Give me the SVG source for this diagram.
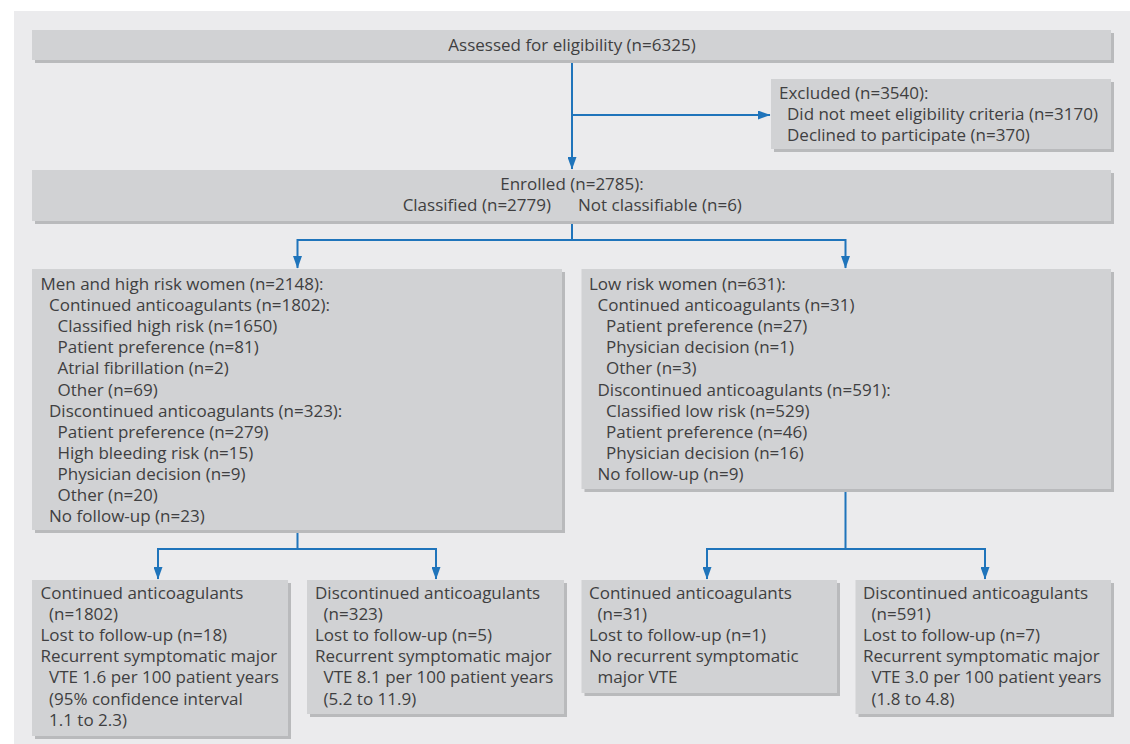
<svg xmlns="http://www.w3.org/2000/svg" width="1130" height="744" viewBox="0 0 1130 744">
<defs>
<marker id="arr" markerUnits="userSpaceOnUse" markerWidth="13" markerHeight="9" refX="12" refY="4.5" orient="auto">
<path d="M0,0 L12.5,4.5 L0,9 z" fill="#1f74bb"/>
</marker>
</defs>
<style>
.bg{fill:#ebebed}
.box{fill:#d1d2d4}
.sh{fill:#b9babc}
.t{font-family:"Open Sans","Liberation Sans",sans-serif;font-size:17px;fill:#3f3f41}
.c{font-family:"Open Sans","Liberation Sans",sans-serif;font-size:17px;fill:#3f3f41;text-anchor:middle}
.e{font-family:"Open Sans","Liberation Sans",sans-serif;font-size:17px;fill:#3f3f41;text-anchor:end}
.ln{fill:none;stroke:#1f74bb;stroke-width:2}
</style>
<rect x="0" y="0" width="1130" height="744" fill="#ffffff"/>
<rect class="bg" x="14" y="11" width="1116" height="733"/>

<g id="connectors">
<path class="ln" d="M572,60 V169" marker-end="url(#arr)"/>
<path class="ln" d="M572,115 H770" marker-end="url(#arr)"/>
<path class="ln" d="M572,221 V240 H297.5 V268" marker-end="url(#arr)"/>
<path class="ln" d="M572,240 H845.5 V268" marker-end="url(#arr)"/>
<path class="ln" d="M297.5,530 V549 H158 V579" marker-end="url(#arr)"/>
<path class="ln" d="M297.5,549 H436 V579" marker-end="url(#arr)"/>
<path class="ln" d="M845.5,489 V549 H707 V579" marker-end="url(#arr)"/>
<path class="ln" d="M845.5,549 H985 V579" marker-end="url(#arr)"/>
</g>

<g id="assessed">
<rect class="sh" x="35" y="33" width="1079" height="30"/>
<rect class="box" x="32" y="30" width="1079" height="30"/>
<text class="c" x="572" y="51">Assessed for eligibility (n=6325)</text>
</g>

<g id="excluded">
<rect class="sh" x="774" y="82" width="340" height="70"/>
<rect class="box" x="771" y="79" width="340" height="70"/>
<text class="t" x="779" y="99">Excluded (n=3540):</text>
<text class="t" x="787" y="120">Did not meet eligibility criteria (n=3170)</text>
<text class="t" x="787" y="141">Declined to participate (n=370)</text>
</g>

<g id="enrolled">
<rect class="sh" x="35" y="173" width="1079" height="51"/>
<rect class="box" x="32" y="170" width="1079" height="51"/>
<text class="c" x="572" y="190">Enrolled (n=2785):</text>
<text class="e" x="551" y="211">Classified (n=2779)</text>
<text class="t" x="578" y="211">Not classifiable (n=6)</text>
</g>

<g id="high-risk">
<rect class="sh" x="35" y="272" width="530" height="261"/>
<rect class="box" x="32" y="269" width="530" height="261"/>
<text class="t" x="40.5" y="290">Men and high risk women (n=2148):</text>
<text class="t" x="49" y="311.1">Continued anticoagulants (n=1802):</text>
<text class="t" x="57.5" y="332.2">Classified high risk (n=1650)</text>
<text class="t" x="57.5" y="353.3">Patient preference (n=81)</text>
<text class="t" x="57.5" y="374.4">Atrial fibrillation (n=2)</text>
<text class="t" x="57.5" y="395.5">Other (n=69)</text>
<text class="t" x="49" y="416.6">Discontinued anticoagulants (n=323):</text>
<text class="t" x="57.5" y="437.7">Patient preference (n=279)</text>
<text class="t" x="57.5" y="458.8">High bleeding risk (n=15)</text>
<text class="t" x="57.5" y="479.9">Physician decision (n=9)</text>
<text class="t" x="57.5" y="501">Other (n=20)</text>
<text class="t" x="49" y="522.1">No follow-up (n=23)</text>
</g>

<g id="low-risk">
<rect class="sh" x="584.5" y="272" width="529.5" height="220"/>
<rect class="box" x="581.5" y="269" width="529.5" height="220"/>
<text class="t" x="589" y="290">Low risk women (n=631):</text>
<text class="t" x="597.5" y="311.1">Continued anticoagulants (n=31)</text>
<text class="t" x="606" y="332.2">Patient preference (n=27)</text>
<text class="t" x="606" y="353.3">Physician decision (n=1)</text>
<text class="t" x="606" y="374.4">Other (n=3)</text>
<text class="t" x="597.5" y="395.5">Discontinued anticoagulants (n=591):</text>
<text class="t" x="606" y="416.6">Classified low risk (n=529)</text>
<text class="t" x="606" y="437.7">Patient preference (n=46)</text>
<text class="t" x="606" y="458.8">Physician decision (n=16)</text>
<text class="t" x="597.5" y="479.9">No follow-up (n=9)</text>
</g>

<g id="hr-continued">
<rect class="sh" x="35" y="583" width="256" height="156"/>
<rect class="box" x="32" y="580" width="256" height="156"/>
<text class="t" x="40.5" y="599">Continued anticoagulants</text>
<text class="t" x="49" y="620.1">(n=1802)</text>
<text class="t" x="40.5" y="641.2">Lost to follow-up (n=18)</text>
<text class="t" x="40.5" y="662.3">Recurrent symptomatic major</text>
<text class="t" x="49" y="683.4">VTE 1.6 per 100 patient years</text>
<text class="t" x="49" y="704.5">(95% confidence interval</text>
<text class="t" x="49" y="725.6">1.1 to 2.3)</text>
</g>

<g id="hr-discontinued">
<rect class="sh" x="310" y="583" width="257" height="134"/>
<rect class="box" x="307" y="580" width="257" height="134"/>
<text class="t" x="315" y="599">Discontinued anticoagulants</text>
<text class="t" x="323.5" y="620.1">(n=323)</text>
<text class="t" x="315" y="641.2">Lost to follow-up (n=5)</text>
<text class="t" x="315" y="662.3">Recurrent symptomatic major</text>
<text class="t" x="323.5" y="683.4">VTE 8.1 per 100 patient years</text>
<text class="t" x="323.5" y="704.5">(5.2 to 11.9)</text>
</g>

<g id="lr-continued">
<rect class="sh" x="584.5" y="583" width="255.5" height="113"/>
<rect class="box" x="581.5" y="580" width="255.5" height="113"/>
<text class="t" x="589" y="599">Continued anticoagulants</text>
<text class="t" x="597.5" y="620.1">(n=31)</text>
<text class="t" x="589" y="641.2">Lost to follow-up (n=1)</text>
<text class="t" x="589" y="662.3">No recurrent symptomatic</text>
<text class="t" x="597.5" y="683.4">major VTE</text>
</g>

<g id="lr-discontinued">
<rect class="sh" x="858.5" y="583" width="255.5" height="134"/>
<rect class="box" x="855.5" y="580" width="255.5" height="134"/>
<text class="t" x="863" y="599">Discontinued anticoagulants</text>
<text class="t" x="871.5" y="620.1">(n=591)</text>
<text class="t" x="863" y="641.2">Lost to follow-up (n=7)</text>
<text class="t" x="863" y="662.3">Recurrent symptomatic major</text>
<text class="t" x="871.5" y="683.4">VTE 3.0 per 100 patient years</text>
<text class="t" x="871.5" y="704.5">(1.8 to 4.8)</text>
</g>
</svg>
